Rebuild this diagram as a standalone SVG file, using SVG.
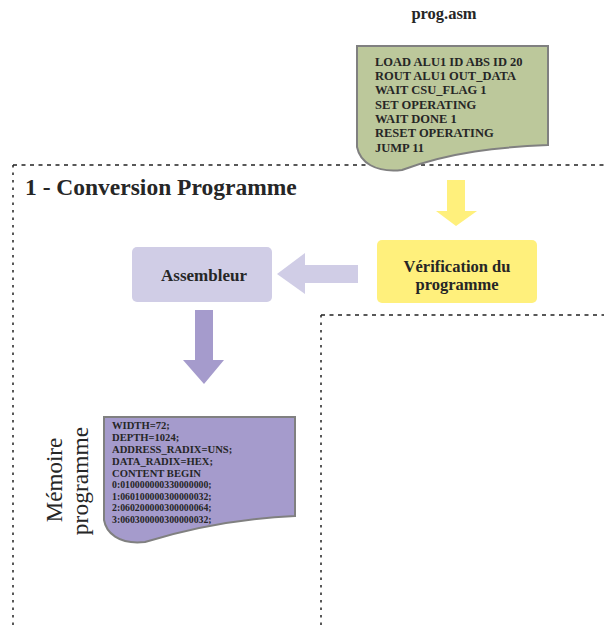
<svg xmlns="http://www.w3.org/2000/svg" width="604" height="629" viewBox="0 0 604 629">
<style>
.t{font-family:"Liberation Serif","DejaVu Serif",serif;fill:#262626}
.b{font-weight:bold}
.dash{fill:none;stroke:#222;stroke-width:1.5}
.h{stroke-dasharray:4 4.5}
.v{stroke-dasharray:2.5 5}
.doc{stroke:#808080;stroke-width:2}
</style>
<rect width="604" height="629" fill="#fff"/>
<g id="regions">
<path class="dash h" d="M13 165 H604"/>
<path class="dash v" d="M13 165 V629"/>
<path class="dash h" d="M321 315 H604"/>
<path class="dash v" d="M321 315 V629"/>
</g>
<text class="t b" x="25" y="195" font-size="23.5">1 - Conversion Programme</text>
<g id="prog-asm">
<text class="t b" x="444" y="19" font-size="16.5" text-anchor="middle">prog.asm</text>
<path class="doc" fill="#bcc89b" d="M357 46 H548 V145 C500 147 450 152 402 170 C375 173 360 162 357 147 Z"/>
<g class="t b" font-size="12.5">
<text x="375" y="66">LOAD ALU1 ID ABS ID 20</text>
<text x="375" y="80">ROUT ALU1 OUT_DATA</text>
<text x="375" y="94">WAIT CSU_FLAG 1</text>
<text x="375" y="109">SET OPERATING</text>
<text x="375" y="123">WAIT DONE 1</text>
<text x="375" y="137">RESET OPERATING</text>
<text x="375" y="152">JUMP 11</text>
</g>
</g>
<g id="verification">
<rect x="377" y="240" width="160" height="63" rx="5" fill="#fff07c"/>
<text class="t b" x="457" y="272" font-size="16.5" text-anchor="middle">Vérification du</text>
<text class="t b" x="457" y="290" font-size="16.5" text-anchor="middle">programme</text>
</g>
<g id="assembleur">
<rect x="132" y="247" width="140" height="55" rx="5" fill="#d0cde6"/>
<text class="t b" x="204" y="281" font-size="17" text-anchor="middle">Assembleur</text>
</g>
<g id="memoire">
<path class="doc" fill="#a59bcc" d="M104 417 H295 V516 C250 518 200 525 145 542 C118 545 106 532 104 520 Z"/>
<g class="t b" font-size="10.6">
<text x="112" y="429">WIDTH=72;</text>
<text x="112" y="440.5">DEPTH=1024;</text>
<text x="112" y="452.5">ADDRESS_RADIX=UNS;</text>
<text x="112" y="464.5">DATA_RADIX=HEX;</text>
<text x="112" y="476.5">CONTENT BEGIN</text>
<text x="112" y="488" font-size="9.8">0:010000000330000000;</text>
<text x="112" y="499.5" font-size="9.8">1:060100000300000032;</text>
<text x="112" y="511" font-size="9.8">2:060200000300000064;</text>
<text x="112" y="523" font-size="9.8">3:060300000300000032;</text>
</g>
<text class="t" font-size="23" text-anchor="middle" transform="translate(62 480) rotate(-90)">Mémoire</text>
<text class="t" font-size="23.5" text-anchor="middle" transform="translate(88 481) rotate(-90)">programme</text>
</g>
<g id="connectors">
<polygon fill="#fff07c" points="447,180 465,180 465,211 477,211 456,226 436,211 447,211"/>
<polygon fill="#d0cde6" points="358,265 305,265 305,253 277,274 305,294 305,283 358,283"/>
<polygon fill="#a59bcc" points="195,310 213,310 213,360 224,360 204,384 183,360 195,360"/>
</g>
</svg>
